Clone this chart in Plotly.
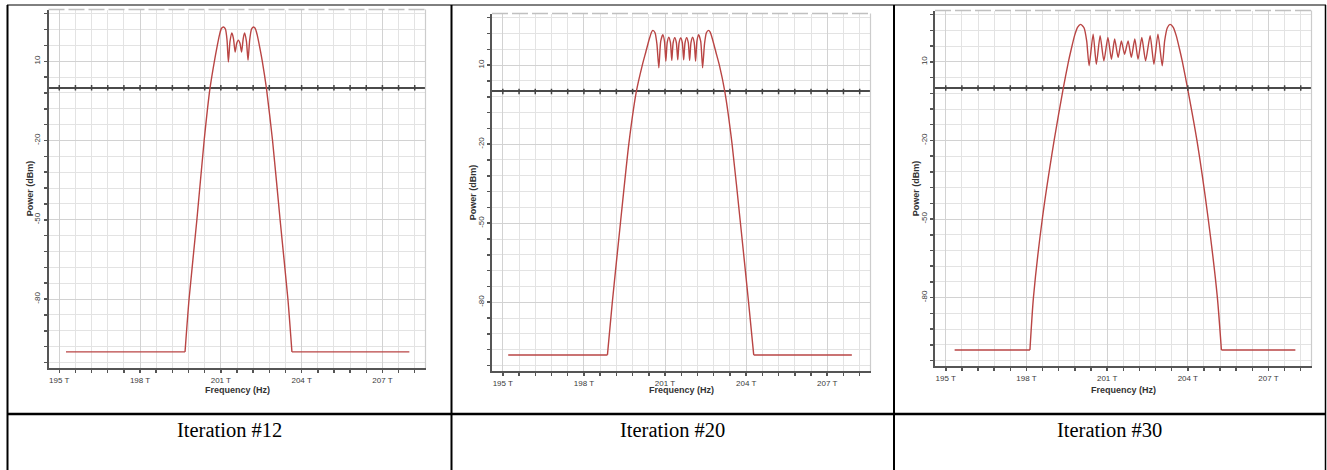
import numpy as np
import plotly.graph_objects as go

W, H = 1327, 470

# ---------------- data ----------------
x_tick_vals = [195, 198, 201, 204, 207]
x_tick_text = ["195 T", "198 T", "201 T", "204 T", "207 T"]
y_tick_vals = [10, -20, -50, -80]
y_tick_text = ["10", "-20", "-50", "-80"]
captions = ["Iteration #12", "Iteration #20", "Iteration #30"]

freq_12 = [195.25, 199.67, 199.82, 200.11, 200.38, 200.60, 200.76, 200.85, 200.95, 201.02,
           201.10, 201.17, 201.23, 201.28, 201.34, 201.41, 201.47, 201.53, 201.59, 201.65,
           201.71, 201.77, 201.83, 201.88, 201.95, 202.01, 202.07, 202.14, 202.21, 202.28,
           202.35, 202.45, 202.54, 202.69, 202.92, 203.20, 203.49, 203.64, 208.00]
power_12 = [-100, -100, -80, -50, -20, 0, 10, 15, 20, 22.4,
            23.0, 22.2, 18.0, 9.7, 17.5, 20.7, 18.5, 13.5, 16.8, 18.0,
            16.8, 13.5, 18.5, 20.7, 17.5, 10.4, 18.0, 22.2, 23.0, 22.4,
            20, 15, 10, 0, -20, -50, -80, -100, -100]

freq_20 = [195.20, 198.87, 199.05, 199.35, 199.66, 199.94, 200.16, 200.29, 200.42, 200.50,
           200.55, 200.63, 200.70, 200.77, 200.84, 200.92, 200.98, 201.03, 201.08, 201.14,
           201.20, 201.25, 201.30, 201.36, 201.42, 201.47, 201.52, 201.58, 201.64, 201.69,
           201.74, 201.80, 201.86, 201.91, 201.96, 202.02, 202.08, 202.13, 202.18, 202.24,
           202.32, 202.39, 202.46, 202.53, 202.61, 202.67, 202.75, 202.88, 203.01, 203.21,
           203.48, 203.79, 204.09, 204.28, 207.91]
power_20 = [-100, -100, -80, -50, -20, 0, 10, 15, 20, 22.5,
            23.2, 22.3, 18.0, 9.0, 19.0, 21.6, 19.0, 11.5, 18.5, 20.6,
            18.5, 11.8, 18.5, 20.4, 18.5, 12.0, 18.5, 20.3, 18.5, 12.0,
            18.5, 20.4, 18.5, 11.8, 18.5, 20.6, 18.5, 11.5, 19.0, 21.6,
            19.0, 9.0, 18.0, 22.3, 23.2, 22.5, 20, 15, 10, 0,
            -20, -50, -80, -100, -100]

freq_30 = [195.33, 198.13, 198.26, 198.59, 199.03, 199.37, 199.56, 199.67, 199.79, 199.90,
           200.02, 200.14, 200.24, 200.33, 200.48, 200.60, 200.74, 200.88, 201.03, 201.16,
           201.28, 201.41, 201.53, 201.65, 201.78, 201.90, 202.03, 202.15, 202.29, 202.43,
           202.60, 202.74, 202.89, 203.05, 203.14, 203.24, 203.34, 203.46, 203.57, 203.69,
           203.80, 203.99, 204.34, 204.76, 205.10, 205.25, 208.00]
power_30 = [-100, -100, -80, -50, -20, 0, 10, 15, 20, 23.2,
            24.3, 23.0, 18.0, 8.5, 20.6, 9.1, 20.0, 10.4, 19.3, 11.0,
            18.7, 11.7, 18.0, 12.9, 18.0, 11.7, 18.7, 11.0, 19.3, 10.4,
            20.0, 9.1, 20.6, 8.5, 18.0, 23.0, 24.3, 23.2, 20, 15,
            10, 0, -20, -50, -80, -100, -100]

panels = [(freq_12, power_12), (freq_20, power_20), (freq_30, power_30)]

# ---------------- layout geometry (pixels) ----------------
X_RANGE = [194.6, 208.6]
Y_RANGE = [-106.1, 29.6]
plot_px = [  # left, right, top, bottom
    (48.5, 425.5, 9.5, 368.0),
    (492.0, 870.5, 13.5, 371.0),
    (935.0, 1311.5, 10.5, 366.0),
]
cell_bounds = [7.5, 451.5, 894.0, 1325.5]
TOP_Y, ROW_Y = 5.0, 414.0

RED = "#b94544"
AXIS = "#555555"
TICKFONT = dict(family="Liberation Sans, Arial, sans-serif", size=8, color="#3a3a3a")
TITLEFONT = dict(family="Liberation Sans, Arial, sans-serif", size=9, color="#333333")


def px2x(p):
    return p / W


def px2y(p):
    return 1 - p / H


fig = go.Figure()
layout = dict(width=W, height=H, margin=dict(l=0, r=0, t=0, b=0),
              paper_bgcolor="white", plot_bgcolor="white", showlegend=False)
shapes, annotations = [], []

for i, ((fr, pw), (l, r, t, b)) in enumerate(zip(panels, plot_px)):
    n = "" if i == 0 else str(i + 1)
    xa, ya = "x" + n, "y" + n
    fr = np.array(fr, dtype=float)
    pw = np.array(pw, dtype=float)
    # flat floors (straight) and the band itself (smoothed)
    for seg, shape in ((slice(0, 2), "linear"), (slice(1, len(fr) - 1), "spline"),
                       (slice(len(fr) - 2, len(fr)), "linear")):
        fig.add_trace(go.Scatter(x=fr[seg], y=pw[seg], mode="lines", xaxis=xa, yaxis=ya,
                                 line=dict(color=RED, width=1.4, shape=shape, smoothing=0.6),
                                 hoverinfo="skip"))
    # tick dots on the 0 dBm line (at the minor x grid positions)
    dots = np.arange(195, X_RANGE[1], 0.6)
    fig.add_trace(go.Scatter(x=dots, y=np.zeros_like(dots), mode="markers", xaxis=xa, yaxis=ya,
                             marker=dict(symbol="line-ns", size=4,
                                         line=dict(color="#444444", width=1.5)),
                             hoverinfo="skip"))

    layout["xaxis" + n] = dict(
        domain=[px2x(l), px2x(r)], anchor=ya, range=X_RANGE,
        tickmode="array", tickvals=x_tick_vals, ticktext=x_tick_text, tickangle=0,
        tickfont=TICKFONT, ticks="outside", ticklen=3, tickwidth=1.5, tickcolor=AXIS,
        showgrid=True, gridcolor="#d2d2d2", gridwidth=1,
        minor=dict(tickmode="linear", tick0=195, dtick=0.6, showgrid=True,
                   gridcolor="#e3e3e3", gridwidth=1, ticks="outside", ticklen=3,
                   tickwidth=1.5, tickcolor=AXIS),
        showline=True, linecolor=AXIS, linewidth=2, zeroline=False, fixedrange=True)
    layout["yaxis" + n] = dict(
        domain=[px2y(b), px2y(t)], anchor=xa, range=Y_RANGE,
        tickmode="array", tickvals=y_tick_vals, ticktext=y_tick_text, tickangle=-90,
        tickfont=TICKFONT, ticks="outside", ticklen=3, tickwidth=1.5, tickcolor=AXIS,
        showgrid=True, gridcolor="#d2d2d2", gridwidth=1,
        minor=dict(tickmode="linear", tick0=10, dtick=6, showgrid=True,
                   gridcolor="#e3e3e3", gridwidth=1, ticks="outside", ticklen=3,
                   tickwidth=1.5, tickcolor=AXIS),
        showline=True, linecolor=AXIS, linewidth=2,
        zeroline=True, zerolinecolor="#4a4a4a", zerolinewidth=2, fixedrange=True)

    # top (dashed) and right plot borders
    shapes.append(dict(type="line", xref=xa + " domain", yref=ya + " domain",
                       x0=0, x1=1, y0=1, y1=1,
                       line=dict(color="#c0c0c0", width=1.5, dash="16px,4px")))
    shapes.append(dict(type="line", xref=xa + " domain", yref=ya + " domain",
                       x0=1, x1=1, y0=0, y1=1, line=dict(color="#cccccc", width=1.2)))

    # axis titles
    annotations.append(dict(text="<b>Frequency (Hz)</b>", xref="paper", yref="paper",
                            x=px2x((l + r) / 2), y=px2y(390), showarrow=False,
                            font=TITLEFONT, xanchor="center", yanchor="middle"))
    annotations.append(dict(text="<b>Power (dBm)</b>", xref="paper", yref="paper",
                            x=px2x(l - 19), y=px2y((t + b) / 2), showarrow=False, textangle=-90,
                            font=TITLEFONT, xanchor="center", yanchor="middle"))
    # caption
    annotations.append(dict(text=captions[i], xref="paper", yref="paper",
                            x=px2x((cell_bounds[i] + cell_bounds[i + 1]) / 2), y=px2y(429.5),
                            showarrow=False, xanchor="center", yanchor="middle",
                            font=dict(family="Liberation Serif, Times New Roman, serif",
                                      size=20.5, color="black")))

# table borders
shapes.append(dict(type="line", xref="paper", yref="paper", x0=px2x(7), x1=px2x(1326),
                   y0=px2y(TOP_Y), y1=px2y(TOP_Y), line=dict(color="black", width=1)))
shapes.append(dict(type="line", xref="paper", yref="paper", x0=px2x(7), x1=px2x(1326),
                   y0=px2y(ROW_Y), y1=px2y(ROW_Y), line=dict(color="black", width=2.5)))
for cx, wdt in zip(cell_bounds, [2, 2, 2, 1.5]):
    shapes.append(dict(type="line", xref="paper", yref="paper", x0=px2x(cx), x1=px2x(cx),
                       y0=px2y(TOP_Y), y1=0, line=dict(color="black", width=wdt)))

layout["shapes"] = shapes
layout["annotations"] = annotations
fig.update_layout(**layout)
fig.write_html("out.html", config={"displayModeBar": False, "staticPlot": True},
               post_script="document.body.style.margin='0';"
                           "document.body.style.overflow='hidden';")
